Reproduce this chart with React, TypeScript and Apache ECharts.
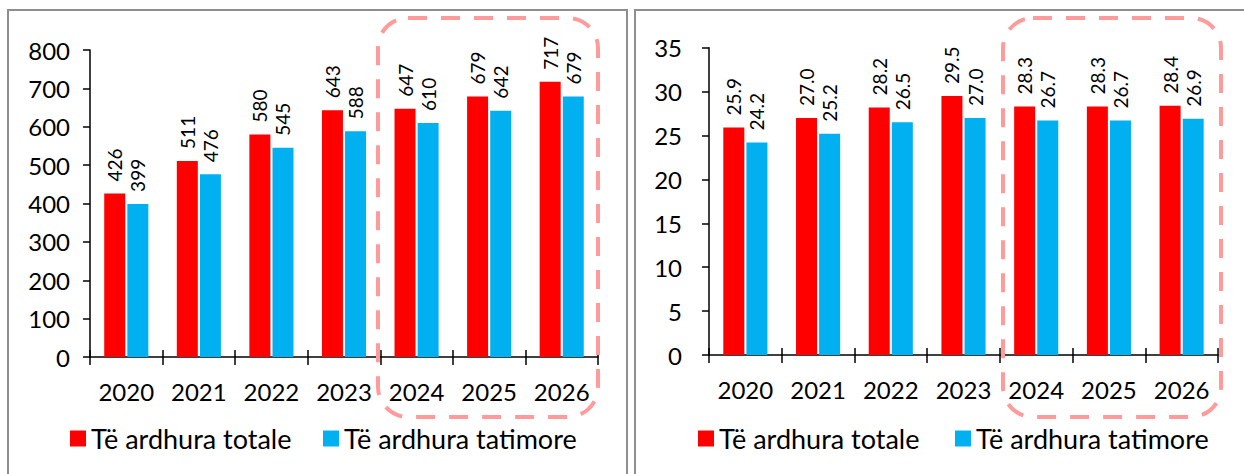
import React, { useEffect, useRef } from "react";
import * as echarts from "echarts";

// Categories and values
const years = ["2020", "2021", "2022", "2023", "2024", "2025", "2026"];
const totalLabel = "Të ardhura totale";
const taxLabel = "Të ardhura tatimore";

// Left panel: absolute amounts
const totalAmount = [426, 511, 580, 643, 647, 679, 717];
const taxAmount = [399, 476, 545, 588, 610, 642, 679];

// Right panel: share (percent)
const totalShare = [25.9, 27.0, 28.2, 29.5, 28.3, 28.3, 28.4];
const taxShare = [24.2, 25.2, 26.5, 27.0, 26.7, 26.7, 26.9];

const RED = "#FF0000";
const BLUE = "#00B0F0";
const FONT = "Lato";
const AXIS_FONT = 24;

function barSeries(
  name: string,
  data: number[],
  color: string,
  axisIndex: number,
  decimals: number
) {
  return {
    type: "bar",
    name,
    data,
    xAxisIndex: axisIndex,
    yAxisIndex: axisIndex,
    barWidth: 21,
    barGap: "10%",
    itemStyle: { color },
    label: {
      show: true,
      position: "top",
      distance: 12,
      rotate: 90,
      align: "left",
      verticalAlign: "middle",
      fontFamily: FONT,
      fontSize: 19,
      color: "#000",
      formatter: (p: any) => Number(p.value).toFixed(decimals),
    },
  };
}

function categoryAxes(gridIndex: number) {
  const base = {
    type: "category",
    gridIndex,
    data: years,
    position: "bottom",
    boundaryGap: true,
  };
  return [
    {
      ...base,
      axisLine: { show: true, lineStyle: { color: "#000", width: 1.5 } },
      axisTick: {
        show: true,
        inside: false,
        length: 8,
        alignWithLabel: false,
        lineStyle: { color: "#000", width: 1.5 },
      },
      axisLabel: {
        show: true,
        margin: 22,
        fontFamily: FONT,
        fontSize: AXIS_FONT,
        color: "#000",
      },
    },
    {
      ...base,
      axisLine: { show: false },
      axisTick: {
        show: true,
        inside: true,
        length: 7,
        alignWithLabel: false,
        lineStyle: { color: "#000", width: 1.5 },
      },
      axisLabel: { show: false },
    },
  ];
}

function valueAxis(gridIndex: number, max: number, interval: number, margin: number) {
  return {
    type: "value",
    gridIndex,
    min: 0,
    max,
    interval,
    axisLine: { show: true, lineStyle: { color: "#000", width: 1.5 } },
    axisTick: { show: true, length: 7, lineStyle: { color: "#000", width: 1.5 } },
    splitLine: { show: false },
    axisLabel: {
      margin,
      fontFamily: FONT,
      fontSize: AXIS_FONT,
      color: "#000",
    },
  };
}

function legendItem(name: string, left: number) {
  return {
    data: [name],
    left,
    top: 425,
    padding: 0,
    icon: "rect",
    itemWidth: 16,
    itemHeight: 16,
    itemGap: 0,
    selectedMode: false,
    textStyle: { fontFamily: FONT, fontSize: 27, color: "#000" },
  };
}

function dashedFrame(x: number, y: number, width: number, height: number) {
  return {
    type: "rect",
    z: 100,
    shape: { x, y, width, height, r: 30 },
    style: {
      fill: "none",
      stroke: "#FF9B9B",
      lineWidth: 4,
      lineDash: [19, 14],
    },
  };
}

function panelFrame(x: number, y: number, width: number, height: number) {
  return {
    type: "rect",
    z: -1,
    shape: { x, y, width, height },
    style: { fill: "none", stroke: "#8E8E8E", lineWidth: 2 },
  };
}

export default function App() {
  const ref = useRef<HTMLDivElement>(null);

  useEffect(() => {
    if (!ref.current) return;
    const chart = echarts.init(ref.current, undefined, { renderer: "svg" });
    const [x0, x0t] = categoryAxes(0);
    const [x1, x1t] = categoryAxes(1);
    chart.setOption({
      animation: false,
      backgroundColor: "#fff",
      textStyle: { fontFamily: FONT, color: "#000" },
      grid: [
        { left: 90, top: 50, width: 508, height: 307 },
        { left: 709, top: 47.7, width: 509, height: 307.3 },
      ],
      xAxis: [x0, x1, x0t, x1t],
      yAxis: [
        valueAxis(0, 800, 100, 20),
        valueAxis(1, 35, 5, 27),
        { ...valueAxis(0, 800, 100, 20), show: false },
        { ...valueAxis(1, 35, 5, 27), show: false },
      ],
      legend: [
        legendItem(totalLabel, 70),
        legendItem(taxLabel, 323),
        legendItem(totalLabel, 698),
        legendItem(taxLabel, 955),
      ],
      series: [
        barSeries(totalLabel, totalAmount, RED, 0, 0),
        barSeries(taxLabel, taxAmount, BLUE, 0, 0),
        barSeries(totalLabel, totalShare, RED, 1, 1),
        barSeries(taxLabel, taxShare, BLUE, 1, 1),
      ],
      graphic: [
        panelFrame(8, 10, 619, 500),
        panelFrame(635, 10, 700, 500),
        dashedFrame(378, 18, 220, 399),
        dashedFrame(1003, 18, 218, 399),
      ],
    });
    return () => chart.dispose();
  }, []);

  return (
    <div
      ref={ref}
      style={{ position: "absolute", left: 0, top: 0, width: 1244, height: 474 }}
    />
  );
}
